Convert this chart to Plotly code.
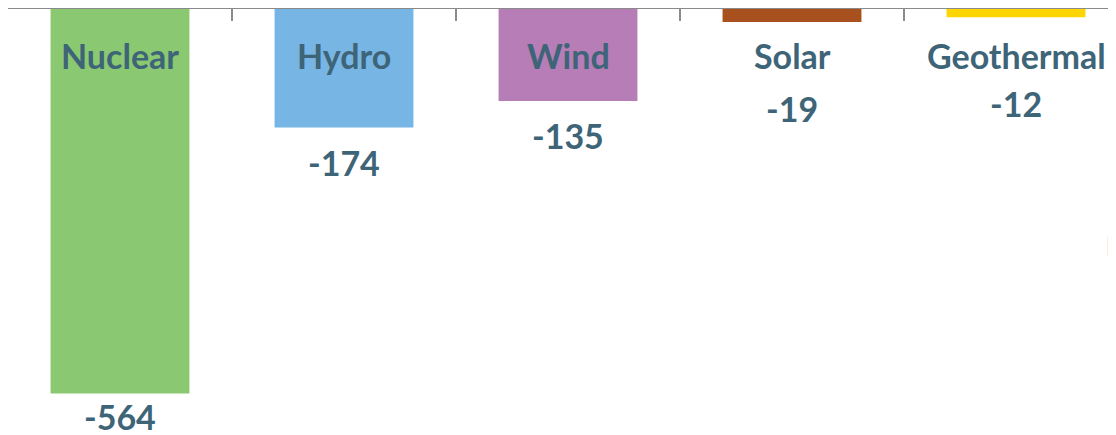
import plotly.graph_objects as go

categories = ["Nuclear", "Hydro", "Wind", "Solar", "Geothermal"]
values = [-564, -174, -135, -19, -12]
colors = ["#8BC872", "#77B6E4", "#B77DB6", "#A8501E", "#FDD500"]
side_note = "Net"

TEXT_COLOR = "#3E6478"
FONT = "Lato"
PX_PER_UNIT = 0.6817
W, H = 1116, 435
TOP = 1
PAGE_OFF = 8  # default body margin of the html page
ymin = -(H - TOP) / PX_PER_UNIT
cat_w = 224
xmax = -0.5 + W / cat_w
visible_h = H - PAGE_OFF

fig = go.Figure()
fig.add_trace(go.Bar(
    x=categories, y=values, marker_color=colors, marker_line_width=0,
    width=0.62, hoverinfo="skip", showlegend=False,
))

annotations = []
for cat, v in zip(categories, values):
    bar_px = -v * PX_PER_UNIT
    inside = bar_px > 60
    annotations.append(dict(
        x=cat, y=0, xref="x", yref="y", text=cat, showarrow=False,
        yanchor="middle", yshift=-46,
        font=dict(family=FONT, size=34, color=TEXT_COLOR, weight="bold"),
    ))
    if inside:
        top_px = min(bar_px + 12, visible_h - 42)
    else:
        top_px = bar_px + 64
    annotations.append(dict(
        x=cat, y=v, xref="x", yref="y", text=f"{v}", showarrow=False,
        yanchor="top", yshift=-(top_px - bar_px),
        font=dict(family=FONT, size=34, color=TEXT_COLOR, weight="bold"),
    ))

annotations.append(dict(
    x=1096 / W, y=1 - 238 / H, xref="paper", yref="paper",
    xanchor="left", yanchor="middle", text=side_note, showarrow=False,
    font=dict(family=FONT, size=26, color="#1F3864", weight="bold"),
))

fig.update_layout(
    width=W, height=H,
    margin=dict(l=0, r=0, t=TOP, b=0, pad=0),
    plot_bgcolor="white", paper_bgcolor="white",
    annotations=annotations,
)
fig.update_xaxes(
    side="top", range=[-0.5, xmax], showticklabels=False,
    ticks="inside", tickson="boundaries", ticklen=12, tickwidth=2,
    tickcolor="#8A8A8A", showline=True, linecolor="#8A8A8A", linewidth=2,
    showgrid=False, zeroline=False,
)
fig.update_yaxes(
    range=[ymin, 0], visible=False, showgrid=False, zeroline=False,
)

fig.write_html("out.html")
